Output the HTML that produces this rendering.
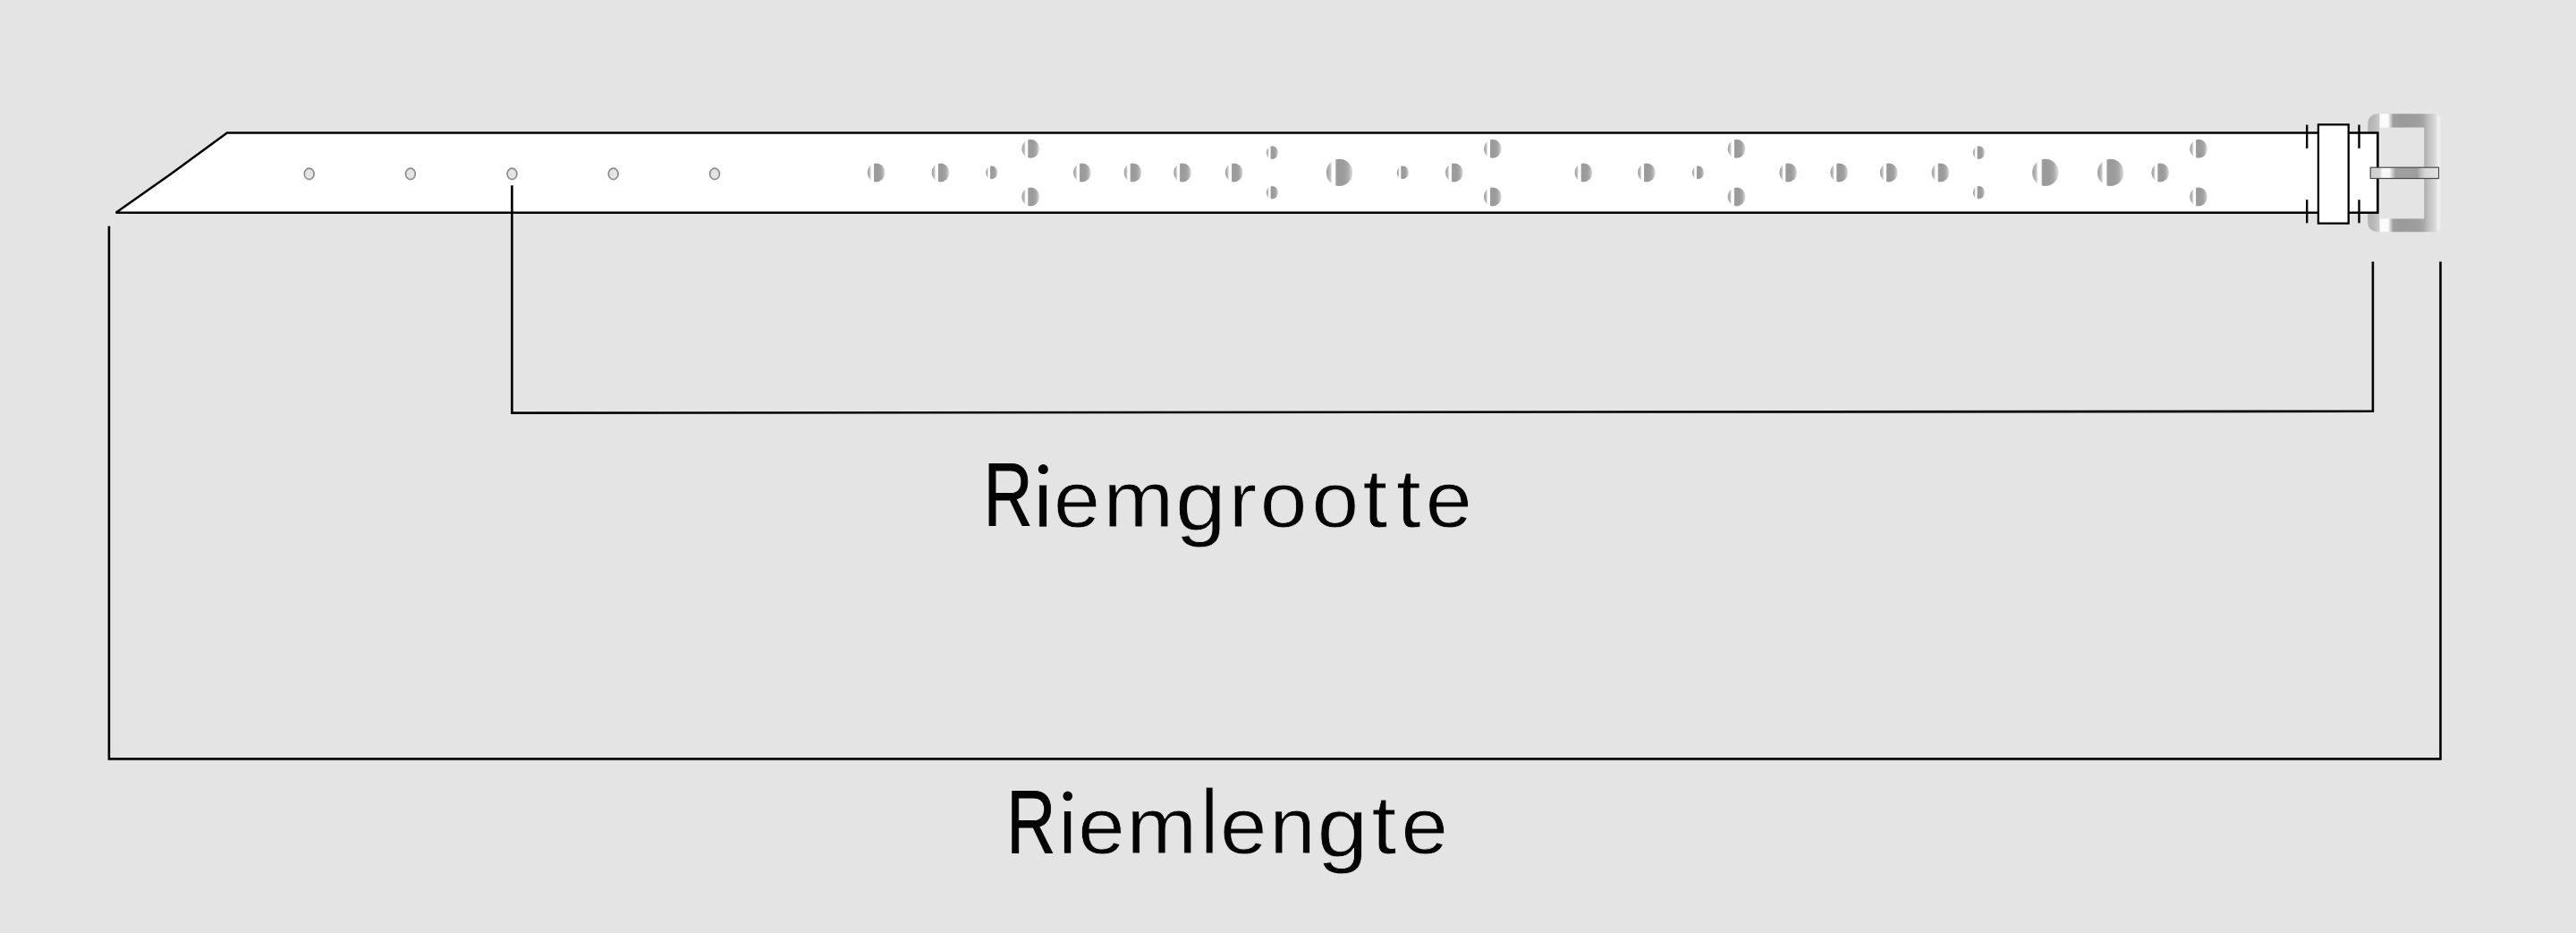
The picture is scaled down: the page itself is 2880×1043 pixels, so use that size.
<!DOCTYPE html>
<html><head><meta charset="utf-8"><title>Riemgrootte</title>
<style>
html,body{margin:0;padding:0;background:#e4e4e4;}
body{width:2880px;height:1043px;overflow:hidden;}
svg{display:block;}
text{font-family:"Liberation Sans",sans-serif;font-size:100.0px;fill:#040404;}
</style></head><body>
<svg width="2880" height="1043" viewBox="0 0 2880 1043">
<defs>
<linearGradient id="hg" x1="0" y1="0" x2="1" y2="0">
<stop offset="0" stop-color="#a4a4a4"/>
<stop offset="0.08" stop-color="#aaaaaa"/>
<stop offset="0.16" stop-color="#c6c6c6"/>
<stop offset="0.21" stop-color="#f4f4f4"/>
<stop offset="0.23" stop-color="#ffffff"/>
<stop offset="0.345" stop-color="#ffffff"/>
<stop offset="0.37" stop-color="#a0a0a0"/>
<stop offset="0.45" stop-color="#9a9a9a"/>
<stop offset="0.65" stop-color="#9c9c9c"/>
<stop offset="0.80" stop-color="#a6a6a6"/>
<stop offset="0.90" stop-color="#c0c0c0"/>
<stop offset="1" stop-color="#e0e0e0"/>
</linearGradient>
<linearGradient id="bk" gradientUnits="userSpaceOnUse" x1="2647.4" y1="0" x2="2727.9" y2="0">
<stop offset="0" stop-color="#b2b2b2"/>
<stop offset="0.08" stop-color="#b8b8b8"/>
<stop offset="0.15" stop-color="#c8c8c8"/>
<stop offset="0.175" stop-color="#fbfbfb"/>
<stop offset="0.28" stop-color="#fbfbfb"/>
<stop offset="0.35" stop-color="#a0a0a0"/>
<stop offset="0.45" stop-color="#9a9a9a"/>
<stop offset="0.70" stop-color="#9e9e9e"/>
<stop offset="0.775" stop-color="#a8a8a8"/>
<stop offset="0.84" stop-color="#c0c0c0"/>
<stop offset="0.92" stop-color="#d4d4d4"/>
<stop offset="0.955" stop-color="#e2e2e2"/>
<stop offset="0.97" stop-color="#efefef"/>
<stop offset="1" stop-color="#eeeeee"/>
</linearGradient>
<linearGradient id="pg" gradientUnits="userSpaceOnUse" x1="2649.6" y1="0" x2="2727.1" y2="0">
<stop offset="0" stop-color="#cccccc"/>
<stop offset="0.15" stop-color="#d6d6d6"/>
<stop offset="0.175" stop-color="#f8f8f8"/>
<stop offset="0.28" stop-color="#f8f8f8"/>
<stop offset="0.37" stop-color="#a0a0a0"/>
<stop offset="0.68" stop-color="#9e9e9e"/>
<stop offset="0.75" stop-color="#c4c4c4"/>
<stop offset="0.80" stop-color="#d6d6d6"/>
<stop offset="0.95" stop-color="#e0e0e0"/>
<stop offset="1" stop-color="#eeeeee"/>
</linearGradient>
</defs>
<!-- buckle frame -->
<path fill="url(#bk)" fill-rule="evenodd" d="M2657.3,127.3 H2721.5 A7,7 0 0 1 2728.5,134.3 V253.3 A6,6 0 0 1 2722.5,259.3 H2657.3 A10,10 0 0 1 2647.3,249.3 V137.3 A10,10 0 0 1 2657.3,127.3 Z M2661.2,142.6 V244.4 H2710.3 V142.6 Z"/>
<!-- belt -->
<path d="M129.6,237.7 L191,194.5 L253.9,148.5 H2658.3 V237.7 Z" fill="#ffffff" stroke="#000" stroke-width="2.6" stroke-linejoin="miter" stroke-miterlimit="3"/>
<ellipse cx="345.7" cy="194.4" rx="5.4" ry="6.2" fill="#e4e4e4" stroke="#8c8c8c" stroke-width="1.7"/>
<ellipse cx="458.9" cy="194.4" rx="5.4" ry="6.2" fill="#e4e4e4" stroke="#8c8c8c" stroke-width="1.7"/>
<ellipse cx="572.5" cy="194.4" rx="5.4" ry="6.2" fill="#e4e4e4" stroke="#8c8c8c" stroke-width="1.7"/>
<ellipse cx="685.7" cy="194.4" rx="5.4" ry="6.2" fill="#e4e4e4" stroke="#8c8c8c" stroke-width="1.7"/>
<ellipse cx="799.0" cy="194.4" rx="5.4" ry="6.2" fill="#e4e4e4" stroke="#8c8c8c" stroke-width="1.7"/>
<ellipse cx="979.6" cy="192.9" rx="9.9" ry="10.5" fill="url(#hg)"/>
<ellipse cx="1051.5" cy="192.9" rx="9.9" ry="10.5" fill="url(#hg)"/>
<ellipse cx="1108.7" cy="192.9" rx="6.6" ry="7.3" fill="url(#hg)"/>
<ellipse cx="1152.2" cy="166.3" rx="9.9" ry="10.5" fill="url(#hg)"/>
<ellipse cx="1152.2" cy="219.9" rx="9.9" ry="10.5" fill="url(#hg)"/>
<ellipse cx="1209.8" cy="192.9" rx="9.9" ry="10.5" fill="url(#hg)"/>
<ellipse cx="1266.4" cy="192.9" rx="9.9" ry="10.5" fill="url(#hg)"/>
<ellipse cx="1322.0" cy="192.9" rx="9.9" ry="10.5" fill="url(#hg)"/>
<ellipse cx="1379.6" cy="192.9" rx="9.9" ry="10.5" fill="url(#hg)"/>
<ellipse cx="1422.4" cy="170.6" rx="6.6" ry="7.3" fill="url(#hg)"/>
<ellipse cx="1422.4" cy="215.2" rx="6.6" ry="7.3" fill="url(#hg)"/>
<ellipse cx="1497.5" cy="192.9" rx="14.7" ry="15.1" fill="url(#hg)"/>
<ellipse cx="1568.3" cy="192.9" rx="6.6" ry="7.3" fill="url(#hg)"/>
<ellipse cx="1625.8" cy="192.9" rx="9.9" ry="10.5" fill="url(#hg)"/>
<ellipse cx="1668.8" cy="166.3" rx="9.9" ry="10.5" fill="url(#hg)"/>
<ellipse cx="1668.8" cy="219.9" rx="9.9" ry="10.5" fill="url(#hg)"/>
<ellipse cx="1770.4" cy="192.9" rx="9.9" ry="10.5" fill="url(#hg)"/>
<ellipse cx="1840.9" cy="192.9" rx="9.9" ry="10.5" fill="url(#hg)"/>
<ellipse cx="1898.5" cy="192.9" rx="6.6" ry="7.3" fill="url(#hg)"/>
<ellipse cx="1941.5" cy="166.3" rx="9.9" ry="10.5" fill="url(#hg)"/>
<ellipse cx="1941.5" cy="219.9" rx="9.9" ry="10.5" fill="url(#hg)"/>
<ellipse cx="1999.2" cy="192.9" rx="9.9" ry="10.5" fill="url(#hg)"/>
<ellipse cx="2056.2" cy="192.9" rx="9.9" ry="10.5" fill="url(#hg)"/>
<ellipse cx="2111.7" cy="192.9" rx="9.9" ry="10.5" fill="url(#hg)"/>
<ellipse cx="2169.4" cy="192.9" rx="9.9" ry="10.5" fill="url(#hg)"/>
<ellipse cx="2212.4" cy="170.6" rx="6.6" ry="7.3" fill="url(#hg)"/>
<ellipse cx="2212.4" cy="215.2" rx="6.6" ry="7.3" fill="url(#hg)"/>
<ellipse cx="2286.8" cy="192.9" rx="14.7" ry="15.1" fill="url(#hg)"/>
<ellipse cx="2359.6" cy="192.9" rx="14.7" ry="15.1" fill="url(#hg)"/>
<ellipse cx="2415.2" cy="192.9" rx="9.9" ry="10.5" fill="url(#hg)"/>
<ellipse cx="2458.0" cy="166.3" rx="9.9" ry="10.5" fill="url(#hg)"/>
<ellipse cx="2458.0" cy="219.9" rx="9.9" ry="10.5" fill="url(#hg)"/>
<!-- keeper -->
<rect x="2591.9" y="139.3" width="33.8" height="110.4" fill="#ffffff" stroke="#000" stroke-width="2.3"/>
<g stroke="#000" stroke-width="2.4">
<line x1="2579.2" y1="139.5" x2="2579.2" y2="165.8"/>
<line x1="2579.2" y1="223.3" x2="2579.2" y2="249.3"/>
<line x1="2637.5" y1="139.5" x2="2637.5" y2="165.8"/>
<line x1="2637.5" y1="223.3" x2="2637.5" y2="249.3"/>
</g>
<!-- prong -->
<rect x="2650.2" y="187.2" width="76.3" height="12.3" fill="url(#pg)" stroke="#4a4a4a" stroke-width="1.2"/>
<!-- brackets -->
<g fill="none" stroke="#000" stroke-width="2.6" stroke-linejoin="miter">
<path d="M572.4,207.3 V461.6 L2652.9,459.8 V292.5"/>
<path d="M121.9,252.7 V848.4 H2728.5 V292.5"/>
</g>
<clipPath id="cw1105"><path clip-rule="evenodd" d="M0,0 H2880 V1043 H0 Z M1157,502.6 h18 v40 h-18 Z"/></clipPath>
<text clip-path="url(#cw1105)"><tspan x="1099.68" y="588.40" font-size="100.29" textLength="54.73" lengthAdjust="spacingAndGlyphs" stroke="#040404" stroke-width="1.00">R</tspan><tspan x="1154.90" y="588.80" font-size="96.60" textLength="22.24" lengthAdjust="spacingAndGlyphs" stroke="#e4e4e4" stroke-width="0.80">i</tspan><tspan x="1178.13" y="589.13" font-size="88.71" textLength="52.03" lengthAdjust="spacingAndGlyphs" stroke="#e4e4e4" stroke-width="0.80">e</tspan><tspan x="1233.63" y="588.80" font-size="88.09" textLength="78.70" lengthAdjust="spacingAndGlyphs" stroke="#e4e4e4" stroke-width="0.80">m</tspan><tspan x="1314.14" y="592.17" font-size="94.61" textLength="56.82" lengthAdjust="spacingAndGlyphs" stroke="#e4e4e4" stroke-width="0.80">g</tspan><tspan x="1373.82" y="588.80" font-size="86.97" textLength="31.28" lengthAdjust="spacingAndGlyphs" stroke="#e4e4e4" stroke-width="0.80">r</tspan><tspan x="1408.84" y="588.54" font-size="87.61" textLength="52.63" lengthAdjust="spacingAndGlyphs" stroke="#e4e4e4" stroke-width="0.80">o</tspan><tspan x="1466.59" y="588.54" font-size="87.61" textLength="52.63" lengthAdjust="spacingAndGlyphs" stroke="#e4e4e4" stroke-width="0.80">o</tspan><tspan x="1523.53" y="588.68" font-size="92.16" textLength="27.65" lengthAdjust="spacingAndGlyphs" stroke="#e4e4e4" stroke-width="0.80">t</tspan><tspan x="1560.93" y="588.68" font-size="92.16" textLength="27.65" lengthAdjust="spacingAndGlyphs" stroke="#e4e4e4" stroke-width="0.80">t</tspan><tspan x="1593.73" y="589.13" font-size="88.71" textLength="52.03" lengthAdjust="spacingAndGlyphs" stroke="#e4e4e4" stroke-width="0.80">e</tspan></text>
<circle cx="1166.3" cy="524.6" r="5.5" fill="#040404"/>
<clipPath id="cw1131"><path clip-rule="evenodd" d="M0,0 H2880 V1043 H0 Z M1185,866.9 h18 v40 h-18 Z"/></clipPath>
<text clip-path="url(#cw1131)"><tspan x="1125.48" y="953.60" font-size="100.87" textLength="54.73" lengthAdjust="spacingAndGlyphs" stroke="#040404" stroke-width="1.00">R</tspan><tspan x="1183.36" y="954.00" font-size="96.47" textLength="20.73" lengthAdjust="spacingAndGlyphs" stroke="#e4e4e4" stroke-width="0.80">i</tspan><tspan x="1205.30" y="953.94" font-size="88.53" textLength="52.39" lengthAdjust="spacingAndGlyphs" stroke="#e4e4e4" stroke-width="0.80">e</tspan><tspan x="1259.44" y="954.00" font-size="88.65" textLength="78.58" lengthAdjust="spacingAndGlyphs" stroke="#e4e4e4" stroke-width="0.80">m</tspan><tspan x="1342.32" y="954.00" font-size="102.81" textLength="19.72" lengthAdjust="spacingAndGlyphs" stroke="#e4e4e4" stroke-width="0.80">l</tspan><tspan x="1364.00" y="953.94" font-size="88.53" textLength="52.39" lengthAdjust="spacingAndGlyphs" stroke="#e4e4e4" stroke-width="0.80">e</tspan><tspan x="1419.50" y="954.00" font-size="88.65" textLength="51.06" lengthAdjust="spacingAndGlyphs" stroke="#e4e4e4" stroke-width="0.80">n</tspan><tspan x="1472.64" y="957.07" font-size="94.61" textLength="56.82" lengthAdjust="spacingAndGlyphs" stroke="#e4e4e4" stroke-width="0.80">g</tspan><tspan x="1533.54" y="954.08" font-size="92.47" textLength="27.75" lengthAdjust="spacingAndGlyphs" stroke="#e4e4e4" stroke-width="0.80">t</tspan><tspan x="1566.40" y="953.94" font-size="88.53" textLength="52.39" lengthAdjust="spacingAndGlyphs" stroke="#e4e4e4" stroke-width="0.80">e</tspan></text>
<circle cx="1193.7" cy="889.9" r="5.3" fill="#040404"/>
</svg>
</body></html>
